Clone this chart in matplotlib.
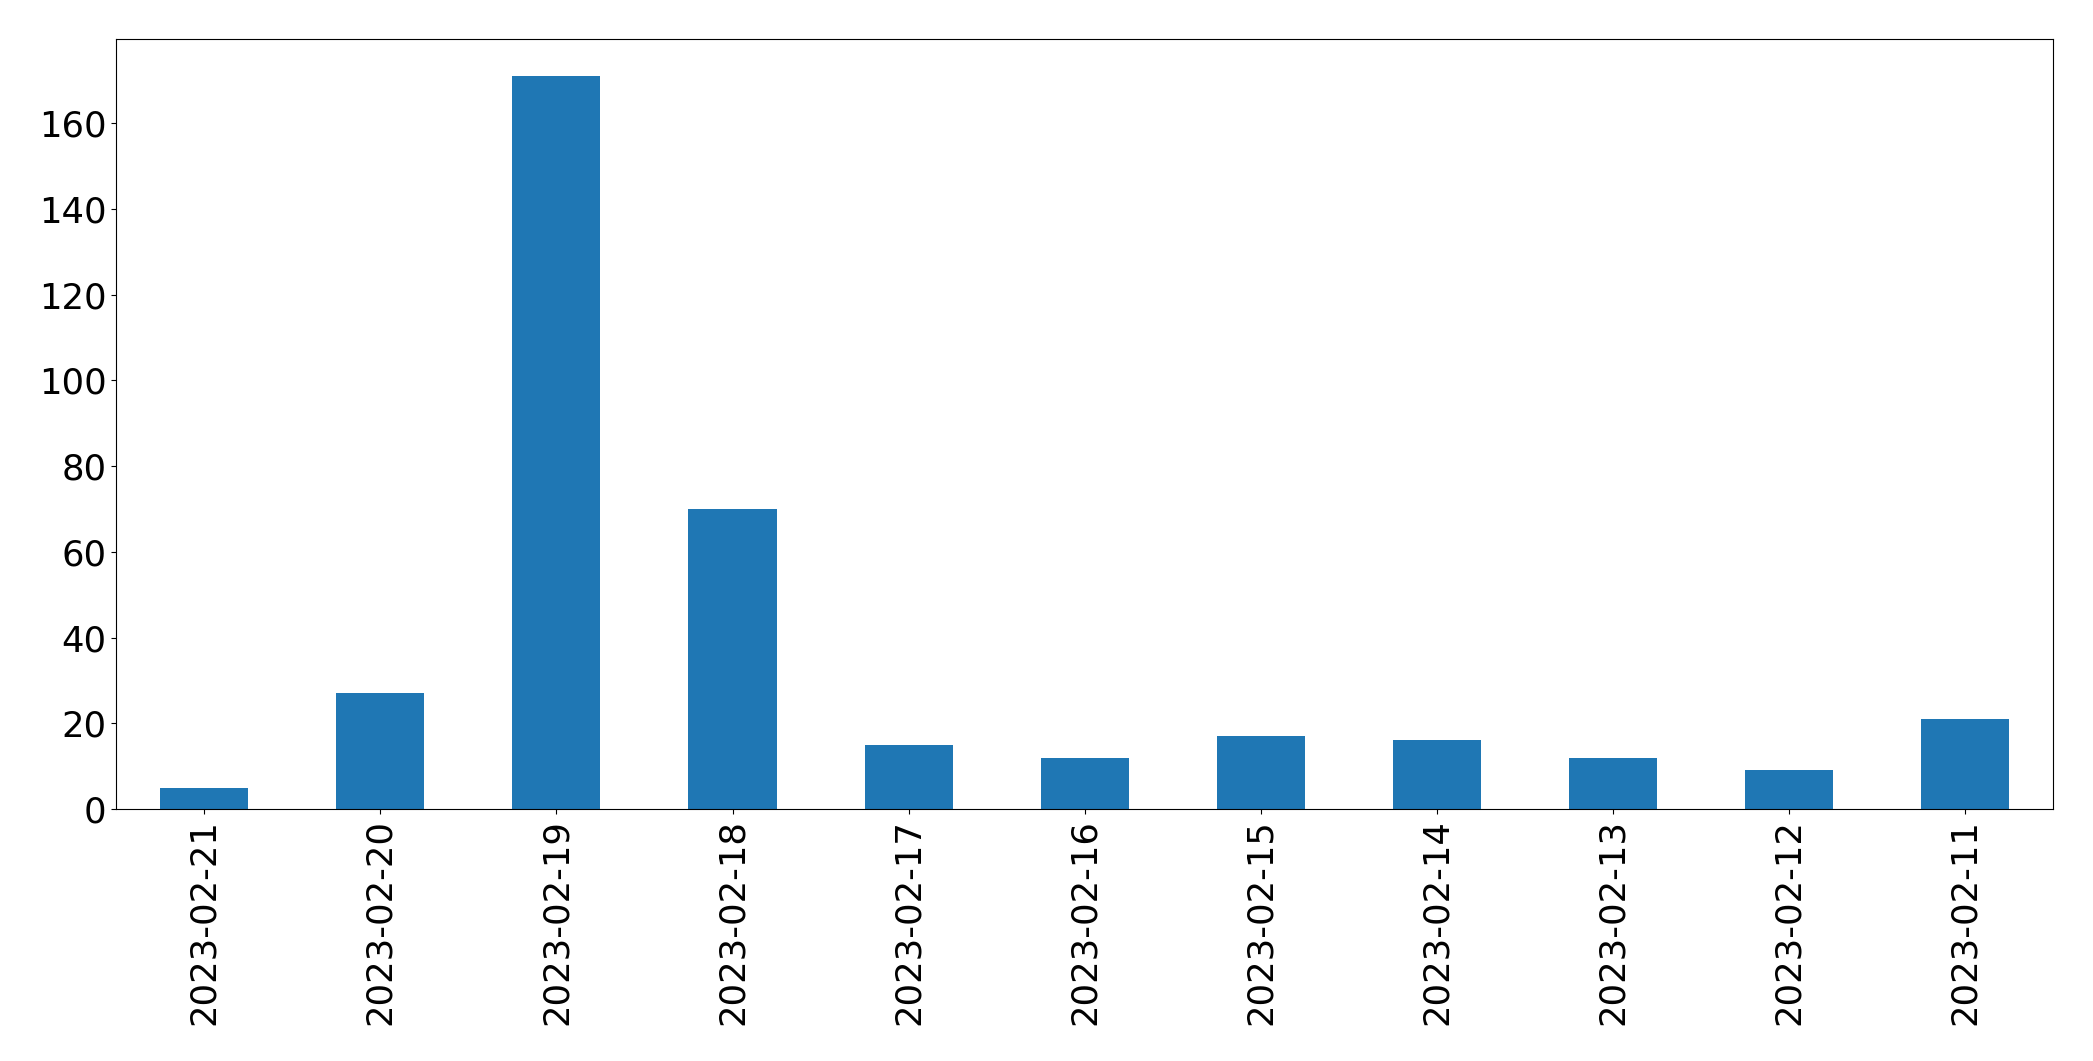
import matplotlib
matplotlib.use("Agg")
import matplotlib.pyplot as plt

dates = ["2023-02-21", "2023-02-20", "2023-02-19", "2023-02-18", "2023-02-17",
         "2023-02-16", "2023-02-15", "2023-02-14", "2023-02-13", "2023-02-12",
         "2023-02-11"]
counts = [5, 27, 171, 70, 15, 12, 17, 16, 12, 9, 21]

fig = plt.figure(figsize=(20.93, 10.61), dpi=100)
ax = fig.add_axes([0.0555, 0.2375, 0.9255, 0.7255])
x = list(range(len(dates)))
ax.bar(x, counts, width=0.5, color="#1f77b4")
ax.set_xlim(-0.5, len(dates) - 0.5)
ax.set_xticks(x)
ax.set_xticklabels(dates, rotation=90)
ax.tick_params(labelsize=25.5)
fig.savefig("out.png", dpi=100)
